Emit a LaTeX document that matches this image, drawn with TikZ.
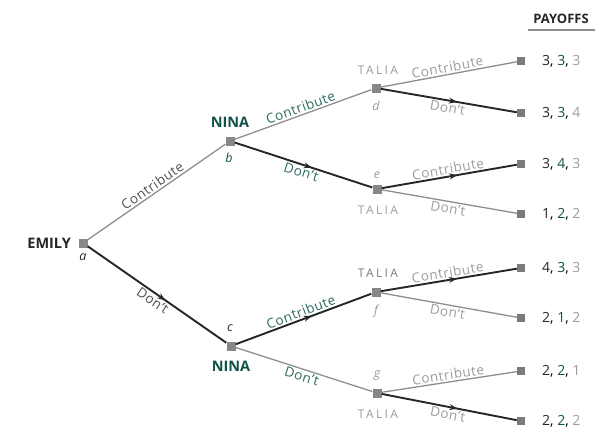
\documentclass[tikz,border=0pt]{standalone}
\usepackage{fontspec}
\setmainfont{Open Sans}
\newfontfamily\spacedfont[LetterSpace=20]{Open Sans}
\newfontfamily\edgefont[LetterSpace=4]{Open Sans}
\usetikzlibrary{decorations.markings,arrows.meta}

\definecolor{ninateal}{HTML}{0F5249}
\definecolor{ninalabel}{HTML}{2E6B60}
\definecolor{taliagray}{HTML}{9C9C9C}
\definecolor{edgegray}{HTML}{8E8E8E}
\definecolor{nodegray}{HTML}{878787}
\definecolor{termgray}{HTML}{7A7A7A}
\definecolor{ink}{HTML}{262626}

\tikzset{
  decision/.style={fill=nodegray, minimum size=9pt, inner sep=0pt},
  terminal/.style={fill=termgray, minimum size=8pt, inner sep=0pt},
  offpath/.style={draw=edgegray, line width=1.3pt},
  onpath/.style={draw=ink, line width=1.9pt, postaction={decorate},
    decoration={markings, mark=at position 0.56 with {\arrow{Stealth[length=8pt,width=6pt]}}}},
  playername/.style={font=\fontsize{14.5}{16}\selectfont\bfseries, inner sep=0pt},
  talianame/.style={font=\fontsize{12}{14}\spacedfont, text=taliagray, inner sep=0pt},
  nodeletter/.style={font=\fontsize{12.5}{14}\selectfont\itshape, inner sep=0pt},
  elab/.style={font=\fontsize{13.5}{15}\edgefont, sloped, inner sep=1.5pt},
  payoff/.style={font=\fontsize{14}{16}\selectfont, anchor=west, inner sep=0pt},
}

\newcommand{\pay}[3]{{\color{ink}#1}, {\color{ninateal}#2}, {\color{taliagray}#3}}

\begin{document}
\begin{tikzpicture}[x=1pt,y=-1pt]
\useasboundingbox (0,0) rectangle (607,431);

% decision nodes
\node[decision] (a) at (83,243) {};
\node[decision] (b) at (230,141) {};
\node[decision] (c) at (231,346) {};
\node[decision] (d) at (376,88) {};
\node[decision] (e) at (377,189) {};
\node[decision] (f) at (376,292) {};
\node[decision] (g) at (377,393) {};

% terminal nodes
\foreach \i/\y in {1/61,2/113,3/164,4/214,5/268,6/318,7/371,8/421}
  \node[terminal] (t\i) at (521,\y) {};

% player names
\node[playername, text=ink, anchor=east] (emily) at (71,243) {EMILY};
\node[playername, text=ninateal] (ninab) at (230,122) {NINA};
\node[playername, text=ninateal] (ninac) at (231,366) {NINA};
\node[talianame] (taliad) at (378,70) {TALIA};
\node[talianame] (taliae) at (378,210) {TALIA};
\node[talianame, text=taliagray!80!black] (taliaf) at (378,273) {TALIA};
\node[talianame] (taliag) at (378,414) {TALIA};

% node letters
\node[nodeletter, text=ink] (la) at (83,257) {a};
\node[nodeletter, text=ninateal] (lb) at (229,158) {b};
\node[nodeletter, text=ink] (lc) at (230,328) {c};
\node[nodeletter, text=taliagray] (ld) at (376,106) {d};
\node[nodeletter, text=taliagray] (le) at (377,175) {e};
\node[nodeletter, text=taliagray] (lf) at (376,311) {f};
\node[nodeletter, text=taliagray] (lg) at (377,376) {g};

% Emily's moves
\draw[offpath] (a) -- node[elab, above, text=ink!80] {Contribute} (b);
\draw[onpath] (a) -- node[elab, below, text=ink!80] {Don’t} (c);

% Nina's moves
\draw[offpath] (b) -- node[elab, above, text=ninalabel] {Contribute} (d);
\draw[onpath] (b) -- node[elab, below, text=ninalabel] {Don’t} (e);
\draw[onpath] (c) -- node[elab, above, text=ninalabel] {Contribute} (f);
\draw[offpath] (c) -- node[elab, below, text=ninalabel] {Don’t} (g);

% Talia's moves
\draw[offpath] (d) -- node[elab, above, text=taliagray] {Contribute} (t1);
\draw[onpath] (d) -- node[elab, below, text=taliagray] {Don’t} (t2);
\draw[onpath] (e) -- node[elab, above, text=taliagray] {Contribute} (t3);
\draw[offpath] (e) -- node[elab, below, text=taliagray] {Don’t} (t4);
\draw[onpath] (f) -- node[elab, above, text=taliagray] {Contribute} (t5);
\draw[offpath] (f) -- node[elab, below, text=taliagray] {Don’t} (t6);
\draw[offpath] (g) -- node[elab, above, text=taliagray] {Contribute} (t7);
\draw[onpath] (g) -- node[elab, below, text=taliagray] {Don’t} (t8);

% payoffs
\node[font=\fontsize{13}{15}\selectfont\bfseries, text=ink, anchor=south, inner sep=0pt] (payhead) at (561,24) {PAYOFFS};
\draw[edgegray, line width=1.2pt] (528,30) -- (595,30);
\node[payoff] (p1) at (542,61) {\pay{3}{3}{3}};
\node[payoff] (p2) at (542,113) {\pay{3}{3}{4}};
\node[payoff] (p3) at (542,164) {\pay{3}{4}{3}};
\node[payoff] (p4) at (542,214) {\pay{1}{2}{2}};
\node[payoff] (p5) at (542,268) {\pay{4}{3}{3}};
\node[payoff] (p6) at (542,318) {\pay{2}{1}{2}};
\node[payoff] (p7) at (542,371) {\pay{2}{2}{1}};
\node[payoff] (p8) at (542,421) {\pay{2}{2}{2}};
\end{tikzpicture}
\end{document}
